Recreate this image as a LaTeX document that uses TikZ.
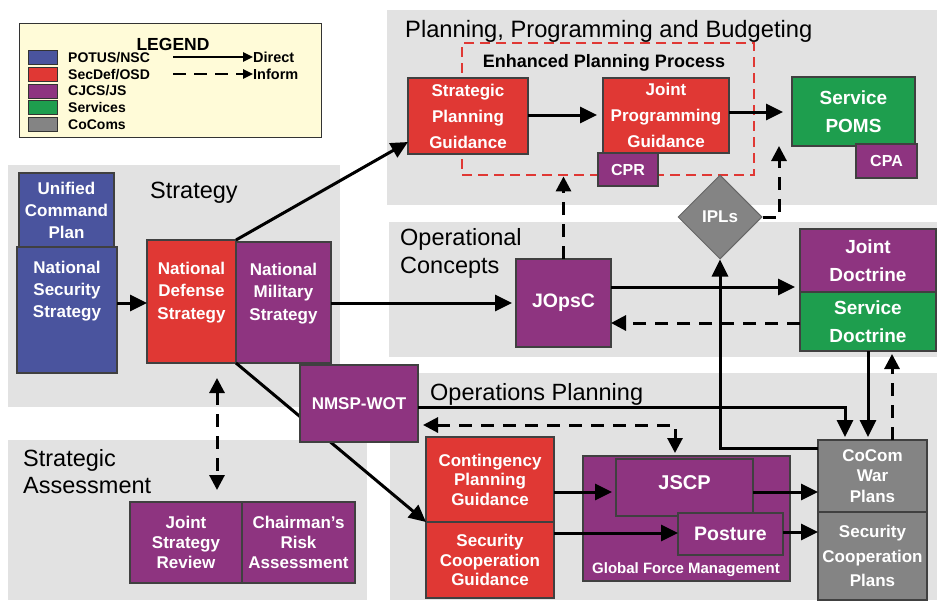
\documentclass[tikz,border=0pt]{standalone}
\usepackage{fontspec}
\setmainfont{Liberation Sans}
\usetikzlibrary{shapes.geometric,arrows.meta}
\definecolor{potus}{RGB}{74,84,158}
\definecolor{secdef}{RGB}{224,56,52}
\definecolor{cjcs}{RGB}{142,52,128}
\definecolor{services}{RGB}{30,158,78}
\definecolor{cocoms}{RGB}{132,132,132}
\definecolor{panel}{RGB}{226,226,226}
\definecolor{legendfill}{RGB}{255,251,216}
\newcommand{\boxfont}[2]{\fontsize{#1}{#2}\selectfont\bfseries}

\begin{document}
\begin{tikzpicture}[%
	x=1pt, y=-1pt,
	box/.style = {shape=rectangle, draw=black!75, line width=1.2pt, inner sep=0pt, outer sep=0pt, align=center, text=white, font=\boxfont{17}{22}},
	title/.style = {inner sep=0pt, align=left, font=\fontsize{23.5}{28}\selectfont},
	keytext/.style = {anchor=west, inner sep=0pt, font=\boxfont{14}{17}},
	keyline/.style = {line width=2.4pt, -{Triangle[length=10pt,width=9pt]}},
	direct/.style = {line width=3pt, -{Triangle[length=17pt,width=16pt]}},
	inform/.style = {line width=3pt, dash pattern=on 13pt off 9pt, -{Triangle[length=15pt,width=15pt]}},
	informboth/.style = {line width=3pt, dash pattern=on 13pt off 9pt, {Triangle[length=15pt,width=15pt]}-{Triangle[length=15pt,width=15pt]}}
	]
  \useasboundingbox (0,0) rectangle (937,600);
  \fill[panel] (387,10) rectangle (937,205);
  \fill[panel] (8,165) rectangle (340,407);
  \fill[panel] (389,222) rectangle (937,357);
  \fill[panel] (390,373) rectangle (937,600);
  \fill[panel] (8,440) rectangle (367,600);

  \node[draw=black!80, line width=1pt, fill=legendfill, minimum width=302pt, minimum height=114pt, inner sep=0pt] (legend) at (170,80) {};
  \node[inner sep=0pt, font=\boxfont{17.5}{20}] (legendtitle) at (173,44) {LEGEND};
  \foreach \col/\lab/\yy [count=\i] in {potus/{POTUS/NSC}/57.5, secdef/{SecDef/OSD}/74.5, cjcs/{CJCS/JS}/91, services/Services/107.5, cocoms/CoComs/124.5} {
    \node[draw=black!80, line width=0.8pt, fill=\col, minimum width=29pt, minimum height=14pt, inner sep=0pt] (swatch\i) at (42.5,\yy) {};
    \node[keytext] (key\i) at (68,\yy) {\lab};
  }
  \node[keytext, font=\boxfont{14.5}{17}] (keydirect) at (253,57) {Direct};
  \node[keytext, font=\boxfont{14.5}{17}] (keyinform) at (253,74) {Inform};
  \coordinate (directstart) at (173,57);
  \coordinate (informstart) at (173,74);
  \draw[keyline] (directstart) -- (keydirect.west);
  \draw[keyline, dash pattern=on 13pt off 8pt] (informstart) -- (keyinform.west);

  \node[title, anchor=base west, font=\fontsize{23.7}{28}\selectfont] (ppbtitle) at (405,37) {Planning, Programming and Budgeting};
  \node[title, anchor=base west] (strategytitle) at (150,198) {Strategy};
  \node[title, anchor=west] (opcontitle) at (400,253) {Operational\\Concepts};
  \node[title, anchor=base west] (opsplantitle) at (430,400) {Operations Planning};
  \node[title, anchor=west, font=\fontsize{23.5}{27}\selectfont] (assesstitle) at (23,472) {Strategic\\Assessment};

  \node[draw=secdef, line width=2.8pt, dash pattern=on 10pt off 6pt, minimum width=292pt, minimum height=132pt, inner sep=0pt] (epp) at (608,109) {};
  \node[inner sep=0pt, font=\boxfont{18}{20}] (epplabel) at (604,63) {Enhanced Planning Process};
  \node[box, fill=secdef, minimum width=120pt, minimum height=76pt, font=\boxfont{17}{26}] (spg) at (468,116) {Strategic\\Planning\\Guidance};
  \node[box, fill=secdef, minimum width=126pt, minimum height=75pt, font=\boxfont{17}{26}] (jpg) at (666,115.5) {Joint\\Programming\\Guidance};
  \node[box, fill=cjcs, minimum width=60pt, minimum height=33pt, font=\boxfont{16}{20}] (cpr) at (628,169.5) {CPR};
  \node[box, fill=services, minimum width=123pt, minimum height=69pt, font=\boxfont{19}{28}] (poms) at (853.5,111.5) {Service\\POMS};
  \node[box, fill=cjcs, minimum width=61pt, minimum height=34pt, font=\boxfont{16}{20}] (cpa) at (886.5,161) {CPA};

  \node[box, fill=potus, minimum width=95pt, minimum height=74pt] (ucp) at (66.5,210) {Unified\\Command\\Plan};
  \node[box, fill=potus, minimum width=100pt, minimum height=126pt] (nss) at (67,310) {};
  \node[inner sep=0pt, align=center, text=white, font=\boxfont{17}{22}] (nsstext) at (67,291) {National\\Security\\Strategy};
  \node[box, fill=secdef, minimum width=89pt, minimum height=123pt, font=\boxfont{17}{22.5}] (nds) at (191.5,301.5) {National\\Defense\\Strategy\\[-1pt]\mbox{}};
  \node[box, fill=cjcs, minimum width=95pt, minimum height=121pt, font=\boxfont{17}{22.5}] (nms) at (283.5,302.5) {National\\Military\\Strategy\\[-1pt]\mbox{}};

  \node[box, fill=secdef, minimum width=128pt, minimum height=85pt, font=\boxfont{17}{19.5}] (cpg) at (490,479.5) {Contingency\\Planning\\Guidance};
  \node[box, fill=secdef, minimum width=128pt, minimum height=76pt, font=\boxfont{17}{19.5}] (scg) at (490,560) {Security\\Cooperation\\Guidance};
  \draw[direct] (nds.south east) -- (cpg.south west);
  \node[box, fill=cjcs, minimum width=118pt, minimum height=77pt] (nmsp) at (359,403.5) {NMSP-WOT};

  \node[box, fill=cjcs, minimum width=95pt, minimum height=88pt, font=\boxfont{19.5}{22}] (jopsc) at (563.5,303) {JOpsC};
  \node[box, fill=cjcs, minimum width=136pt, minimum height=63pt, font=\boxfont{19}{27.5}] (jd) at (868,260.5) {Joint\\Doctrine};
  \node[box, fill=services, minimum width=136pt, minimum height=59pt, font=\boxfont{19}{28}] (sd) at (868,321.5) {Service\\Doctrine};
  \node[shape=diamond, draw=black!60, line width=1pt, fill=cocoms, minimum width=84pt, minimum height=84pt, inner sep=0pt, text=white, font=\boxfont{17}{20}] (ipls) at (720,217) {IPLs};

  \node[box, fill=cjcs, minimum width=207pt, minimum height=125pt] (gfm) at (686.5,518.5) {};
  \node[box, fill=cjcs, minimum width=137pt, minimum height=57pt, font=\boxfont{20}{24}] (jscp) at (684.5,487.5) {JSCP\\[-14pt]\mbox{}};
  \node[box, fill=cjcs, minimum width=105pt, minimum height=42pt, font=\boxfont{19.5}{22}] (posture) at (730.5,534) {Posture};
  \node[inner sep=0pt, text=white, font=\boxfont{15}{18}] (gfmlabel) at (686,570) {Global Force Management};
  \node[box, fill=cocoms, minimum width=109pt, minimum height=72pt, font=\boxfont{17}{20.5}] (cocom) at (872.5,476) {CoCom\\War\\Plans};
  \node[box, fill=cocoms, minimum width=109pt, minimum height=88pt, font=\boxfont{17}{24.5}] (scp) at (872.5,556) {Security\\Cooperation\\Plans};

  \node[box, fill=cjcs, minimum width=112pt, minimum height=81pt, font=\boxfont{17}{20}] (jsr) at (186,542.5) {Joint\\Strategy\\Review};
  \node[box, fill=cjcs, minimum width=113pt, minimum height=81pt, font=\boxfont{17}{20}] (cra) at (298.5,542.5) {Chairman's\\Risk\\Assessment};

  \draw[direct] (nss.east |- 0,303) -- (nds.west |- 0,303);
  \draw[direct] (nds.north east) -- (spg.west |- 0,142);
  \draw[direct, shorten >=4pt] (nms.east |- 0,303) -- (jopsc.west |- 0,303);
  \draw[direct, shorten >=6pt] (spg.east |- 0,115) -- (jpg.west |- 0,115);
  \draw[direct, shorten >=9pt] (jpg.east |- 0,112) -- (poms.west |- 0,112);
  \draw[inform] (jopsc.north) -- (jopsc.north |- epp.south);
  \draw[inform] (ipls.east) -| ([xshift=-13pt]poms.south west);
  \draw[direct, shorten >=5pt] (jopsc.east |- 0,287) -- (jd.west |- 0,287);
  \draw[inform] (sd.west |- 0,323) -- (jopsc.east |- 0,323);
  \draw[direct] (cocom.west |- 0,448) -| (ipls.south);
  \draw[direct, shorten >=3pt] (nmsp.east |- 0,407) -| (cocom.north -| 845,0);
  \draw[direct, shorten >=3pt] (sd.south -| 868,0) -- (cocom.north -| 868,0);
  \draw[inform, shorten >=3pt] (cocom.north -| 892,0) -- (sd.south -| 892,0);
  \draw[informboth, shorten <=5pt, shorten >=6pt] (nmsp.east |- 0,425) -| (jscp.north -| 675,0);
  \draw[direct, shorten >=4pt] (cpg.east |- 0,492) -- (jscp.west |- 0,492);
  \draw[direct] (scg.east |- 0,533) -- (posture.west |- 0,533);
  \draw[direct] (jscp.east |- 0,492) -- (cocom.west |- 0,492);
  \draw[direct] (posture.east |- 0,532) -- (scp.west |- 0,532);
  \draw[informboth, shorten <=15pt, shorten >=12pt] (nds.south -| 217,0) -- (jsr.north -| 217,0);
\end{tikzpicture}
\end{document}
